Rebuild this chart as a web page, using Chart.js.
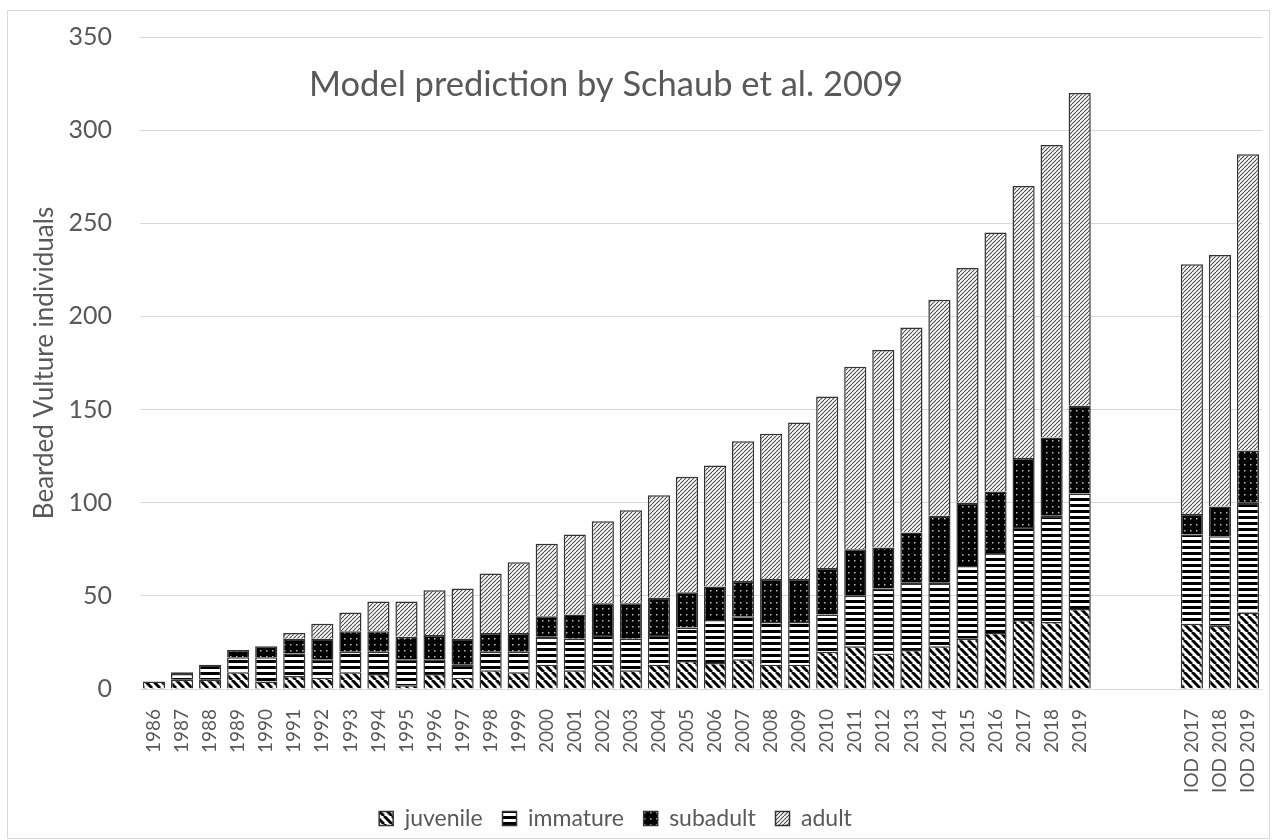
<!DOCTYPE html>
<html>
<head>
<meta charset="utf-8">
<script src="https://cdn.jsdelivr.net/npm/chart.js@4.4.1/dist/chart.umd.min.js"></script>
<style>
  html, body { margin: 0; padding: 0; background: #fff; }
  #wrap { width: 1274px; height: 840px; }
</style>
</head>
<body>
<div id="wrap"><canvas id="chart" width="1274" height="840"></canvas></div>
<script>
// categories: model years, three empty slots, then IOD counts
const years = ['1986', '1987', '1988', '1989', '1990', '1991', '1992', '1993', '1994', '1995',
    '1996', '1997', '1998', '1999', '2000', '2001', '2002', '2003', '2004', '2005',
    '2006', '2007', '2008', '2009', '2010', '2011', '2012', '2013', '2014', '2015',
    '2016', '2017', '2018', '2019'];
const gapLabels = ['', '', ''];
const iodLabels = ['IOD 2017', 'IOD 2018', 'IOD 2019'];
const labels = years.concat(gapLabels, iodLabels);

// series values
const juvenile = [4, 5, 5, 9, 4, 7, 6, 9, 8, 2, 8, 6, 10, 9, 13, 10, 13, 10, 13, 15,
    14, 16, 13, 13, 20, 23, 19, 21, 23, 27, 30, 37, 36, 43,
    null, null, null, 35, 34, 41];
const immature = [0, 3, 8, 8, 13, 12, 10, 11, 12, 14, 8, 7, 10, 11, 15, 17, 16, 17, 16, 18,
    23, 23, 23, 23, 20, 27, 35, 36, 34, 39, 43, 50, 57, 62,
    null, null, null, 48, 48, 59];
const subadult = [0, 1, 0, 4, 6, 8, 11, 11, 11, 12, 13, 14, 10, 10, 11, 13, 17, 19, 20, 19,
    18, 19, 23, 23, 25, 25, 22, 27, 36, 34, 33, 37, 42, 47,
    null, null, null, 11, 16, 28];
const adult = [0, 0, 0, 0, 0, 3, 8, 10, 16, 19, 24, 27, 32, 38, 39, 43, 44, 50, 55, 62,
    65, 75, 78, 84, 92, 98, 106, 110, 116, 126, 139, 146, 157, 168,
    null, null, null, 134, 135, 159];

const yTicks = [0, 50, 100, 150, 200, 250, 300, 350];

const textColor = '#595959';
const fontFamily = 'Lato, "Open Sans", sans-serif';

// fill patterns
function makePattern(size, drawFn) {
    const c = document.createElement('canvas');
    c.width = size;
    c.height = size;
    const g = c.getContext('2d');
    drawFn(g, size);
    return document.getElementById('chart').getContext('2d').createPattern(c, 'repeat');
}

// juvenile: thick "\" stripes
const juvPattern = makePattern(8, function(g, s) {
    g.fillStyle = '#fff';
    g.fillRect(0, 0, s, s);
    g.strokeStyle = '#000';
    g.lineWidth = 3;
    for (let k = -1; k <= 1; k++) {
        g.beginPath();
        g.moveTo(k * s, 0);
        g.lineTo(k * s + s, s);
        g.stroke();
    }
});

// immature: horizontal lines
const immPattern = makePattern(6, function(g, s) {
    g.fillStyle = '#fff';
    g.fillRect(0, 0, s, s);
    g.fillStyle = '#000';
    g.fillRect(0, 0, s, 3);
});

// subadult: black with small white dots
const subPattern = makePattern(6, function(g, s) {
    g.fillStyle = '#000';
    g.fillRect(0, 0, s, s);
    g.fillStyle = '#bbb';
    g.fillRect(2, 2, 1.5, 1.5);
});

// adult: fine "/" hatch, light grey
const adultPattern = makePattern(4, function(g, s) {
    g.fillStyle = '#fff';
    g.fillRect(0, 0, s, s);
    g.strokeStyle = '#4a4a4a';
    g.lineWidth = 1.1;
    for (let k = -1; k <= 1; k++) {
        g.beginPath();
        g.moveTo(k * s, s);
        g.lineTo(k * s + s, 0);
        g.stroke();
    }
});

// white background + outer frame
const framePlugin = {
    id: 'frame',
    beforeDraw(chart) {
        const ctx = chart.ctx;
        ctx.save();
        ctx.fillStyle = '#fff';
        ctx.fillRect(0, 0, chart.width, chart.height);
        ctx.strokeStyle = '#d9d9d9';
        ctx.lineWidth = 1;
        ctx.strokeRect(7.5, 10.5, 1262, 828);
        ctx.restore();
    }
};

// title drawn inside the plot area
const innerTitle = {
    id: 'innerTitle',
    afterDatasetsDraw(chart) {
        const ctx = chart.ctx;
        ctx.save();
        ctx.fillStyle = textColor;
        ctx.font = '34.5px ' + fontFamily;
        ctx.textAlign = 'center';
        ctx.textBaseline = 'middle';
        ctx.fillText('Model prediction by Schaub et al. 2009', 606, 85);
        ctx.restore();
    }
};

function ds(label, data, pattern) {
    return {
        label: label,
        data: data,
        backgroundColor: pattern,
        borderColor: '#333',
        borderWidth: 1.5,
        categoryPercentage: 1,
        barPercentage: 0.79
    };
}

const ctx = document.getElementById('chart').getContext('2d');
const chart = new Chart(ctx, {
    type: 'bar',
    data: {
        labels: labels,
        datasets: [
            ds('juvenile', juvenile, juvPattern),
            ds('immature', immature, immPattern),
            ds('subadult', subadult, subPattern),
            ds('adult', adult, adultPattern)
        ]
    },
    options: {
        responsive: false,
        animation: false,
        devicePixelRatio: 1,
        layout: {
            padding: { left: 22, right: 12, top: 37, bottom: 0 }
        },
        scales: {
            x: {
                stacked: true,
                grid: { display: false },
                border: { display: true, color: '#d9d9d9', width: 1 },
                ticks: {
                    autoSkip: false,
                    maxRotation: 90,
                    minRotation: 90,
                    padding: 12,
                    color: textColor,
                    font: { family: fontFamily, size: 19 }
                },
                afterFit(scale) {
                    scale.height = 104;
                    scale.paddingLeft = 0;
                    scale.paddingRight = 0;
                }
            },
            y: {
                stacked: true,
                min: 0,
                max: 350,
                afterBuildTicks(scale) {
                    scale.ticks = yTicks.map(v => ({ value: v }));
                },
                grid: { color: '#d9d9d9', lineWidth: 1, drawTicks: false },
                border: { display: false },
                ticks: {
                    padding: 28,
                    color: textColor,
                    font: { family: fontFamily, size: 25 }
                },
                title: {
                    display: true,
                    text: 'Bearded Vulture individuals',
                    color: textColor,
                    padding: { top: 7, bottom: 0 },
                    font: { family: fontFamily, size: 26 }
                },
                afterFit(scale) {
                    scale.width = 118;
                    scale.paddingTop = 15;
                    scale.paddingBottom = 15;
                }
            }
        },
        plugins: {
            legend: {
                position: 'bottom',
                labels: {
                    boxWidth: 14,
                    boxHeight: 14,
                    padding: 14,
                    color: textColor,
                    font: { family: fontFamily, size: 23 },
                    generateLabels(chart) {
                        const items = Chart.defaults.plugins.legend.labels.generateLabels(chart);
                        items.forEach(function(it, i) {
                            it.text = it.text + (i === items.length - 1 ? '         ' : ' ');
                        });
                        return items;
                    }
                }
            },
            tooltip: { enabled: false }
        }
    },
    plugins: [framePlugin, innerTitle]
});
</script>
</body>
</html>
